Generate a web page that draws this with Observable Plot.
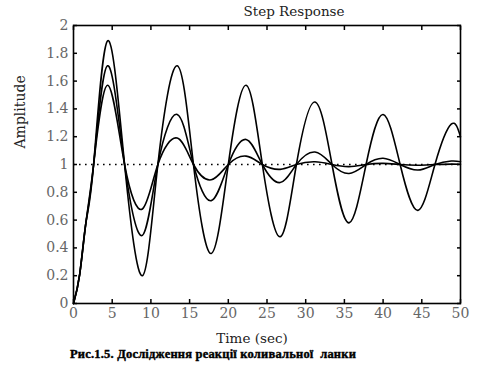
<!DOCTYPE html>
<html>
<head>
<meta charset="utf-8">
<script src="https://cdn.jsdelivr.net/npm/d3@7"></script>
<script src="https://cdn.jsdelivr.net/npm/@observablehq/plot@0.6"></script>
<style>
  html, body { margin: 0; padding: 0; background: #fff; }
  #chart svg { display: block; }
  #chart svg text { font-family: "DejaVu Serif", "Liberation Serif", serif !important; }
  #chart svg g.caption text { font-family: "Liberation Serif", "DejaVu Serif", serif !important; letter-spacing: 0.2px; }
</style>
</head>
<body>
<div id="chart"></div>
<script>
// Sample times (sec): start, peaks, troughs and crossings of 1
const time = [0, 0.8, 1.6, 2.6, 4.4, 6.6, 8.9, 10.9, 13.4, 15.5, 17.8, 20.0, 22.3, 24.4, 26.7, 28.8, 31.2, 33.4, 35.6, 37.8, 40.0, 42.2, 44.5, 46.7, 48.8, 50];
// Lightly damped response
const ampA = [0, 0.21, 0.58, 1.0, 1.89, 1.0, 0.20, 1.0, 1.71, 1.0, 0.36, 1.0, 1.57, 1.0, 0.48, 1.0, 1.45, 1.0, 0.58, 1.0, 1.36, 1.0, 0.67, 1.0, 1.29, 1.20];
// Medium damping
const ampB = [0, 0.21, 0.58, 1.0, 1.71, 1.0, 0.49, 1.0, 1.36, 1.0, 0.74, 1.0, 1.18, 1.0, 0.87, 1.0, 1.09, 1.0, 0.935, 1.0, 1.045, 1.0, 0.96, 1.0, 1.025, 1.02];
// Strongest damping
const ampC = [0, 0.21, 0.58, 1.0, 1.57, 1.0, 0.68, 1.0, 1.19, 1.0, 0.89, 1.0, 1.06, 1.0, 0.965, 1.0, 1.02, 1.0, 0.985, 1.0, 1.008, 1.0, 0.995, 1.0, 1.003, 1.002];
const seriesNames = ["A", "B", "C"];
const xTicks = [0, 5, 10, 15, 20, 25, 30, 35, 40, 45, 50];
const yTicks = [0, 0.2, 0.4, 0.6, 0.8, 1, 1.2, 1.4, 1.6, 1.8, 2];
const steadyState = [1];
const titleText = "Step Response";
const xLabel = "Time (sec)";
const yLabel = "Amplitude";
const captionText = "Рис.1.5. Дослідження реакції коливальної  ланки";

const seriesValues = [ampA, ampB, ampC];
const rows = seriesNames.flatMap((s, k) => time.map((t, i) => ({series: s, t, v: seriesValues[k][i]})));

const serif = "'DejaVu Serif', serif";
const chart = Plot.plot({
  width: 481,
  height: 376,
  marginLeft: 73,
  marginRight: 21,
  marginTop: 25,
  marginBottom: 73,
  style: {fontFamily: serif, fontSize: "13px", background: "#fff"},
  x: {domain: [0, 50]},
  y: {domain: [0, 2]},
  marks: [
    Plot.ruleY(steadyState, {stroke: "black", strokeWidth: 1.6, strokeDasharray: "1.6,4.4"}),
    Plot.line(rows, {x: "t", y: "v", z: "series", curve: "natural", stroke: "black", strokeWidth: 1.6}),
    Plot.frame({stroke: "black", strokeWidth: 1.6}),
    Plot.axisX(xTicks, {anchor: "bottom", tickSize: -4, tickPadding: 9, stroke: "black", strokeWidth: 1.5, fill: "#666", fontSize: 14, label: null}),
    Plot.axisX(xTicks, {anchor: "top", tickSize: -4, tickFormat: () => "", stroke: "black", strokeWidth: 1.5, label: null}),
    Plot.axisY(yTicks, {anchor: "left", tickSize: -4, tickPadding: 9, stroke: "black", strokeWidth: 1.5, fill: "#666", fontSize: 14, tickFormat: d => String(d), label: null}),
    Plot.axisY(yTicks, {anchor: "right", tickSize: -4, tickFormat: () => "", stroke: "black", strokeWidth: 1.5, label: null}),
    Plot.text([titleText], {frameAnchor: "top", dx: 27, dy: -10, lineAnchor: "bottom", fontSize: 13.5, fill: "#222"}),
    Plot.text([xLabel], {frameAnchor: "bottom", dx: -15, dy: 30, lineAnchor: "top", fontSize: 13.5, fill: "#222"}),
    Plot.text([yLabel], {frameAnchor: "left", dx: -53, dy: -16, rotate: -90, fontSize: 14, fill: "#222"}),
    Plot.text([captionText], {frameAnchor: "bottom", dx: -54, dy: 54, fontSize: 12.5, fontWeight: "bold", fill: "#000", stroke: "#000", strokeWidth: 0.4, className: "caption"})
  ]
});
document.getElementById("chart").appendChild(chart);
</script>
</body>
</html>
